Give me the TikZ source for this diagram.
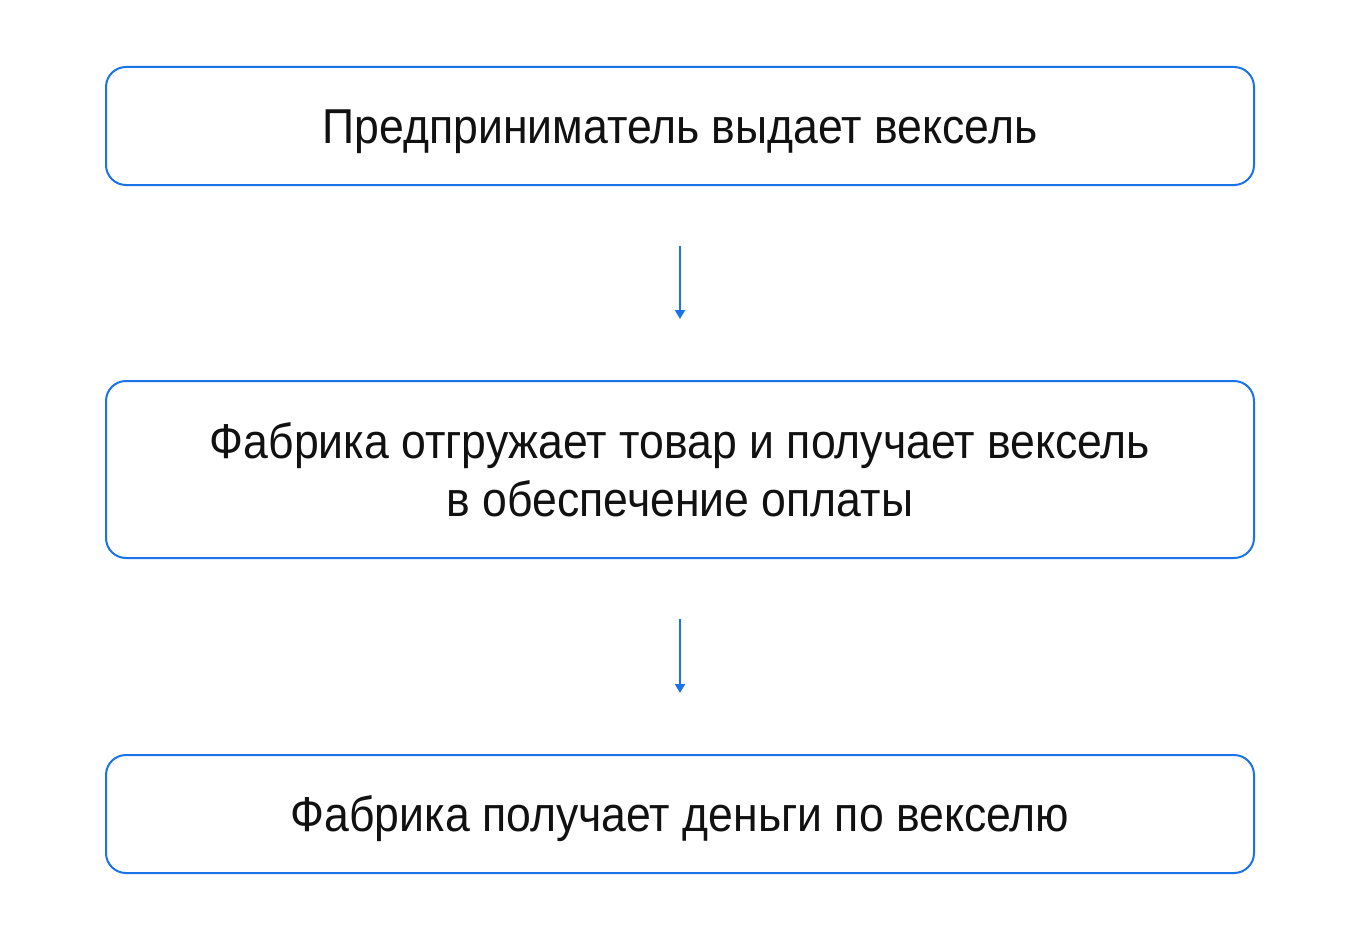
\documentclass[tikz,border=0pt]{standalone}
\usepackage{fontspec}
\setmainfont{Liberation Sans}[FakeStretch=0.91]
\usepackage{xcolor}
\usetikzlibrary{arrows.meta}
\definecolor{frame}{HTML}{1A73E8}
\definecolor{ink}{HTML}{111111}
\tikzset{
  stage/.style={draw=frame, line width=2pt, rounded corners=20pt, minimum width=1148pt,
    text=ink, align=center, font=\fontsize{49}{58}\selectfont, inner sep=0pt},
  oneline/.style={stage, minimum height=118pt, text height=35pt, text depth=0pt},
  flow/.style={draw=frame, line width=2pt, -{Triangle[width=10pt,length=9pt]},
    shorten <=60pt, shorten >=61pt},
}
\begin{document}
\begin{tikzpicture}[x=1pt,y=-1pt]
  \useasboundingbox (0,0) rectangle (1360,950);
  \node[oneline] (issue) at (680,126) {Предприниматель выдает вексель};
  \node[stage, minimum height=177pt] (ship) at (680,469.5) {Фабрика отгружает товар и получает вексель\\в обеспечение оплаты};
  \node[oneline] (pay) at (680,814) {Фабрика получает деньги по векселю};
  \draw[flow] (issue) -- (ship);
  \draw[flow] (ship) -- (pay);
\end{tikzpicture}
\end{document}
